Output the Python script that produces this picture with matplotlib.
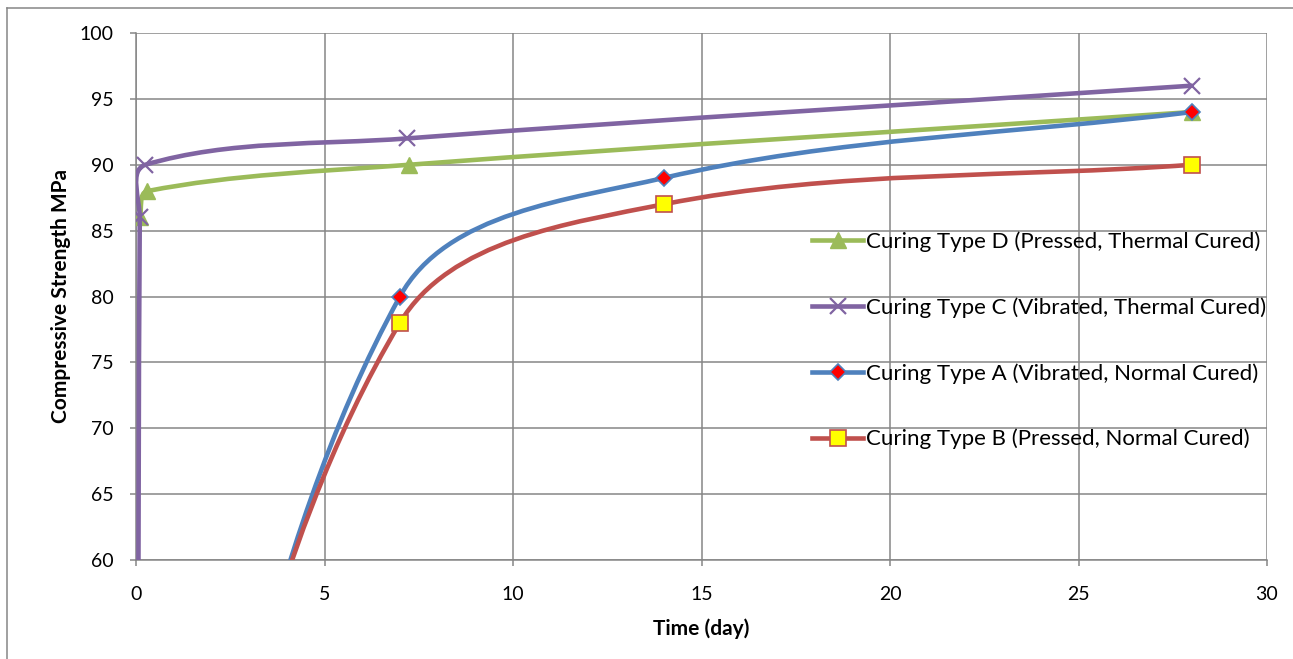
import numpy as np
import matplotlib
matplotlib.use('Agg')
import matplotlib.pyplot as plt
from matplotlib.path import Path
from matplotlib.patches import PathPatch
from matplotlib.lines import Line2D

plt.rcParams['font.family'] = ['Lato', 'DejaVu Sans']

# data
day_d = [0.1, 0.3, 7.25, 28]
strength_d = [86, 88, 90, 94]
day_c = [0.05, 0.1, 0.25, 7.2, 28]
strength_c = [0, 86, 90, 92, 96]
day_a = [0, 7, 14, 28]
strength_a = [16, 80, 89, 94]
day_b = [0, 7, 14, 28]
strength_b = [20, 78, 87, 90]

labels = ['Curing Type D (Pressed, Thermal Cured)',
          'Curing Type C (Vibrated, Thermal Cured)',
          'Curing Type A (Vibrated, Normal Cured)',
          'Curing Type B (Pressed, Normal Cured)']

grey = '#868686'


# smoothed line like excel: bezier segments, control points built in pixel space
def smooth_path(ax, xs, ys):
    pts = ax.transData.transform(np.column_stack([xs, ys]))
    n = len(pts)
    verts = [pts[0]]
    codes = [Path.MOVETO]
    for i in range(n - 1):
        p0 = pts[max(i - 1, 0)]
        p1 = pts[i]
        p2 = pts[i + 1]
        p3 = pts[min(i + 2, n - 1)]
        d = np.hypot(*(p2 - p1))
        t1 = p2 - p0
        t2 = p3 - p1
        c1 = p1 + t1 / np.hypot(*t1) * d / 3
        c2 = p2 - t2 / np.hypot(*t2) * d / 3
        verts += [c1, c2, p2]
        codes += [Path.CURVE4] * 3
    verts = ax.transData.inverted().transform(np.array(verts))
    return Path(verts, codes)


fig = plt.figure(figsize=(12.93, 6.59), dpi=100)
ax = fig.add_axes([136 / 1293, 1 - 560 / 659, (1267 - 136) / 1293, (560 - 33) / 659])
ax.set_xlim(0, 30)
ax.set_ylim(60, 100)

series = [
    (day_d, strength_d, '#9BBB59', dict(marker='^', ms=11, mfc='#9BBB59', mec='#9BBB59')),
    (day_c, strength_c, '#8064A2', dict(marker='x', ms=12, mfc='#8064A2', mec='#8064A2', mew=1.6)),
    (day_a, strength_a, '#4F81BD', dict(marker='D', ms=8, mfc='#FF0000', mec='#4F81BD', mew=1.2)),
    (day_b, strength_b, '#C0504D', dict(marker='s', ms=11, mfc='#FFFF00', mec='#C0504D', mew=1.2)),
]

handles = []
for k, (xs, ys, col, mk) in enumerate(series):
    patch = PathPatch(smooth_path(ax, xs, ys), fill=False, edgecolor=col, lw=3.3,
                      capstyle='round', joinstyle='round', zorder=3 + k)
    ax.add_patch(patch)
    ax.plot(xs, ys, linestyle='none', zorder=3.5 + k, **mk)
    handles.append(Line2D([], [], color=col, lw=3.3, **mk))

ax.set_xticks(np.arange(0, 31, 5))
ax.set_yticks(np.arange(60, 101, 5))
ax.grid(True, color=grey, lw=1.1)
ax.set_axisbelow(True)
for s in ['top', 'right']:
    ax.spines[s].set_visible(False)
for s in ['left', 'bottom']:
    ax.spines[s].set_color(grey)
    ax.spines[s].set_linewidth(1.1)
ax.tick_params(axis='both', direction='out', length=4, width=1.1, color=grey,
               labelsize=14, labelcolor='black')
ax.tick_params(axis='x', pad=15)
ax.tick_params(axis='y', pad=12)

ax.set_xlabel('Time (day)', fontsize=15, fontweight='bold', labelpad=11)
ax.set_ylabel('Compressive Strength MPa', fontsize=15, fontweight='bold', labelpad=6)

ax.legend(handles, labels, loc='upper left', bbox_to_anchor=(0.590, 0.64),
          frameon=False, fontsize=16, labelspacing=2.03, handlelength=2.3,
          handletextpad=0.12, borderaxespad=0)

# outer chart border (left and top only are visible)
fig.add_artist(Line2D([7 / 1293, 7 / 1293], [0, 1 - 8 / 659], transform=fig.transFigure,
                      color=grey, lw=1.1))
fig.add_artist(Line2D([7 / 1293, 1], [1 - 8 / 659, 1 - 8 / 659], transform=fig.transFigure,
                      color=grey, lw=1.1))

fig.savefig('out.png', dpi=100)
